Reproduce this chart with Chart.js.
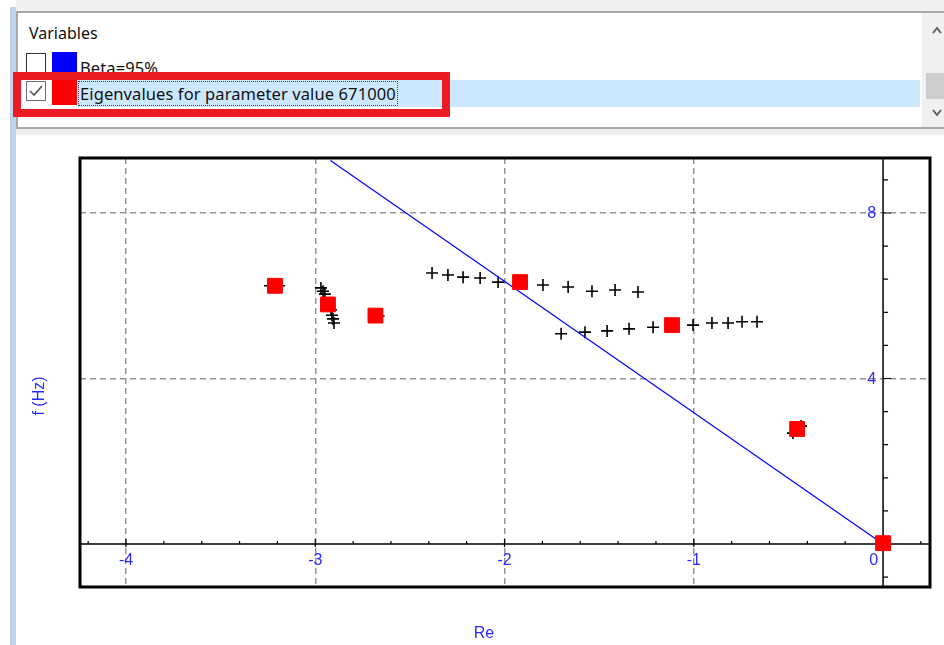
<!DOCTYPE html>
<html>
<head>
<meta charset="utf-8">
<title>Eigenvalues</title>
<script src="https://cdn.jsdelivr.net/npm/chart.js@4.4.0/dist/chart.umd.min.js"></script>
<style>
  html, body { margin: 0; padding: 0; width: 944px; height: 645px; overflow: hidden; background: #fff; font-family: "Noto Sans", sans-serif; }
  #eigenChart { position: absolute; left: 0; top: 0; z-index: 0; }
  .abs { position: absolute; z-index: 1; box-sizing: border-box; }
  #topBand { left: 16px; top: 0; width: 928px; height: 12px; background: #f0f0f0; }
  #sideBar { left: 10px; top: 7px; width: 6px; height: 638px; background: #bed4ec; }
  #listBox { left: 16px; top: 11px; width: 940px; height: 118px; border: 2px solid #a8a8a8; background: #fff; }
  #belowBand { left: 16px; top: 129px; width: 928px; height: 6px; background: #f0f0f0; }
  .txt { font-size: 16px; line-height: 20px; color: #111; white-space: nowrap; }
  .item { font-size: 16.5px; letter-spacing: 0.1px; }
  #varTitle { left: 29px; top: 23px; }
  .check { width: 20px; height: 20px; background: #fff; }
  #check1 { left: 26px; top: 53px; border: 1px solid #333; }
  #check2 { left: 26px; top: 81px; border: 1px solid #707070; }
  .swatch { width: 25px; height: 25px; }
  #swatchBlue { left: 52px; top: 52px; background: #0000ff; }
  #swatchRed { left: 52px; top: 80px; background: #ff0000; }
  #betaText { left: 80px; top: 58px; }
  #rowHighlight { left: 78px; top: 80px; width: 842px; height: 27px; background: #cce8ff; }
  #eigenText { left: 78px; top: 81px; width: 320px; height: 25px; border: 1px dotted #444; padding-left: 1px; line-height: 23px; }
  #redBox { left: 13px; top: 72px; width: 437px; height: 45px; border: 8px solid #ed1c24; z-index: 3; }
  #scrollTrack { left: 922px; top: 13px; width: 22px; height: 114px; background: #f0f0f0; }
  #scrollThumb { left: 926px; top: 73px; width: 18px; height: 26px; background: #cdcdcd; }
</style>
</head>
<body>
<canvas id="eigenChart" width="944" height="645"></canvas>

<!-- painel de variaveis -->
<div class="abs" id="topBand"></div>
<div class="abs" id="sideBar"></div>
<div class="abs" id="listBox"></div>
<div class="abs" id="belowBand"></div>
<div class="abs txt" id="varTitle">Variables</div>
<div class="abs check" id="check1"></div>
<div class="abs swatch" id="swatchBlue"></div>
<div class="abs txt item" id="betaText">Beta=95%</div>
<div class="abs" id="rowHighlight"></div>
<div class="abs check" id="check2">
  <svg width="18" height="18" style="position:absolute;left:0;top:0">
    <polyline points="3,9 7,13 15,4" fill="none" stroke="#555" stroke-width="1.6"/>
  </svg>
</div>
<div class="abs swatch" id="swatchRed"></div>
<div class="abs txt item" id="eigenText">Eigenvalues for parameter value 671000</div>
<div class="abs" id="redBox"></div>
<div class="abs" id="scrollTrack">
  <svg width="22" height="114" style="position:absolute;left:0;top:0">
    <polyline points="11,20 15,15 19,20" fill="none" stroke="#606060" stroke-width="2"/>
    <polyline points="11,97 15,102 19,97" fill="none" stroke="#606060" stroke-width="2"/>
  </svg>
</div>
<div class="abs" id="scrollThumb"></div>

<script>
// Ticks dos eixos
const xTickValues = [-4, -3, -2, -1, 0];
const xTickLabels = ["-4", "-3", "-2", "-1", "0"];
const yTickValues = [0, 4, 8];
const yTickLabels = ["0", "4", "8"];
const xMinorStep = 0.2;
const yMinorStep = 0.8;

// Linha Beta=95%
const betaRe = [0, -2.92];
const betaF = [0, 9.27];

// Autovalores para o parametro 671000 (quadrados vermelhos)
const eigenRe = [-3.213, -2.933, -2.682, -1.918, -1.115, -0.454, 0.0];
const eigenF = [6.24, 5.79, 5.52, 6.33, 5.29, 2.78, 0.02];

// Trajetoria dos autovalores (cruzes)
const trackRe = [
  -3.239, -3.191, -2.970, -2.959, -2.949, -2.933, -2.917, -2.912, -2.906, -2.901, -2.665,
  -2.383, -2.299, -2.219, -2.129, -2.034, -1.918, -1.797, -1.664, -1.538, -1.416, -1.295,
  -1.701, -1.575, -1.458, -1.342, -1.215, -1.115, -1.004, -0.904, -0.819, -0.745, -0.666,
  -0.476, -0.433, 0.0,
];
const trackF = [
  6.24, 6.24, 6.19, 6.11, 6.04, 5.80, 5.66, 5.53, 5.44, 5.34, 5.51,
  6.55, 6.50, 6.45, 6.43, 6.33, 6.33, 6.26, 6.21, 6.11, 6.14, 6.09,
  5.08, 5.12, 5.15, 5.20, 5.24, 5.29, 5.29, 5.34, 5.34, 5.37, 5.37,
  2.68, 2.85, 0.0,
];

const labelColor = "#2b2bff";
const labelFont = "16px 'Liberation Sans', sans-serif";
const titleFont = "16px 'Liberation Sans', sans-serif";

document.addEventListener("DOMContentLoaded", function () {
  setupChart();
});

function toPoints(xs, ys) {
  return xs.map((x, i) => ({ x: x, y: ys[i] }));
}

// Eixos cruzando em (0,0), ticks, rotulos e moldura
const axisPlugin = {
  id: "axisPlugin",
  beforeDatasetsDraw(chart) {
    const { ctx, chartArea } = chart;
    const xs = chart.scales.x;
    const ys = chart.scales.y;
    const x0 = xs.getPixelForValue(0);
    const y0 = ys.getPixelForValue(0);

    ctx.save();
    ctx.strokeStyle = "#000";
    ctx.lineWidth = 1.5;
    ctx.beginPath();
    ctx.moveTo(chartArea.left, y0);
    ctx.lineTo(chartArea.right, y0);
    ctx.moveTo(x0, chartArea.top);
    ctx.lineTo(x0, chartArea.bottom);
    ctx.stroke();

    // ticks do eixo x
    ctx.lineWidth = 1.2;
    ctx.beginPath();
    const xFirst = Math.ceil(xs.min / xMinorStep);
    const xLast = Math.floor(xs.max / xMinorStep);
    for (let i = xFirst; i <= xLast; i++) {
      const v = i * xMinorStep;
      const major = Math.abs(v - Math.round(v)) < 1e-6;
      const px = xs.getPixelForValue(v);
      ctx.moveTo(px, y0 - (major ? 5 : 3));
      ctx.lineTo(px, y0 + (major ? 3 : 0));
    }
    // ticks do eixo y
    const yFirst = Math.ceil(ys.min / yMinorStep);
    const yLast = Math.floor(ys.max / yMinorStep);
    for (let i = yFirst; i <= yLast; i++) {
      const v = i * yMinorStep;
      const major = Math.abs(v / 4 - Math.round(v / 4)) < 1e-6;
      const py = ys.getPixelForValue(v);
      ctx.moveTo(x0, py);
      ctx.lineTo(x0 + (major ? 8 : 5), py);
    }
    ctx.stroke();

    // rotulos
    ctx.fillStyle = labelColor;
    ctx.font = labelFont;
    ctx.textBaseline = "middle";
    xTickValues.forEach((v, i) => {
      const px = xs.getPixelForValue(v);
      if (v === 0) {
        ctx.textAlign = "right";
        ctx.fillText(xTickLabels[i], px - 5, y0 + 17);
      } else {
        ctx.textAlign = "center";
        ctx.fillText(xTickLabels[i], px, y0 + 17);
      }
    });
    ctx.textAlign = "right";
    yTickValues.forEach((v, i) => {
      if (v === 0) return;
      ctx.fillText(yTickLabels[i], x0 - 7, ys.getPixelForValue(v) + 1);
    });

    // titulos dos eixos
    ctx.font = titleFont;
    ctx.textAlign = "center";
    ctx.fillText("Re", 484, 634);
    ctx.save();
    ctx.translate(40, 396);
    ctx.rotate(-Math.PI / 2);
    ctx.fillText("f (Hz)", 0, 0);
    ctx.restore();
    ctx.restore();
  },
  afterDraw(chart) {
    const { ctx, chartArea } = chart;
    ctx.save();
    ctx.strokeStyle = "#000";
    ctx.lineWidth = 3;
    ctx.strokeRect(chartArea.left, chartArea.top, chartArea.right - chartArea.left, chartArea.bottom - chartArea.top);
    ctx.restore();
  },
};

function gridColor(context) {
  return context.tick && context.tick.value === 0 ? "rgba(0,0,0,0)" : "#959595";
}

function setupChart() {
  const canvas = document.getElementById("eigenChart");

  new Chart(canvas, {
    type: "scatter",
    data: {
      datasets: [
        {
          label: "Eigenvalues for parameter value 671000",
          data: toPoints(eigenRe, eigenF),
          pointStyle: "rect",
          pointRadius: 10.5,
          pointBackgroundColor: "#ff0000",
          pointBorderColor: "#ff0000",
          pointBorderWidth: 1,
          order: 0,
        },
        {
          label: "Beta=95%",
          data: toPoints(betaRe, betaF),
          showLine: true,
          borderColor: "#0000ff",
          borderWidth: 1.2,
          pointRadius: 0,
          order: 1,
        },
        {
          label: "Track",
          data: toPoints(trackRe, trackF),
          pointStyle: "cross",
          pointRadius: 6,
          pointBorderColor: "#000",
          pointBorderWidth: 1.6,
          order: 2,
        },
      ],
    },
    options: {
      responsive: false,
      animation: false,
      events: [],
      layout: {
        padding: { left: 80, top: 158, right: 14, bottom: 58 },
      },
      plugins: {
        legend: { display: false },
        tooltip: { enabled: false },
      },
      scales: {
        x: {
          type: "linear",
          min: -4.243,
          max: 0.248,
          afterBuildTicks: (scale) => {
            scale.ticks = xTickValues.map((v) => ({ value: v }));
          },
          ticks: { display: false },
          grid: { color: gridColor, lineWidth: 1.5, drawTicks: false },
          border: { display: false, dash: [6, 4] },
        },
        y: {
          type: "linear",
          min: -1.039,
          max: 9.329,
          afterBuildTicks: (scale) => {
            scale.ticks = yTickValues.map((v) => ({ value: v }));
          },
          ticks: { display: false },
          grid: { color: gridColor, lineWidth: 1.5, drawTicks: false },
          border: { display: false, dash: [6, 4] },
        },
      },
    },
    plugins: [axisPlugin],
  });
}
</script>
</body>
</html>
